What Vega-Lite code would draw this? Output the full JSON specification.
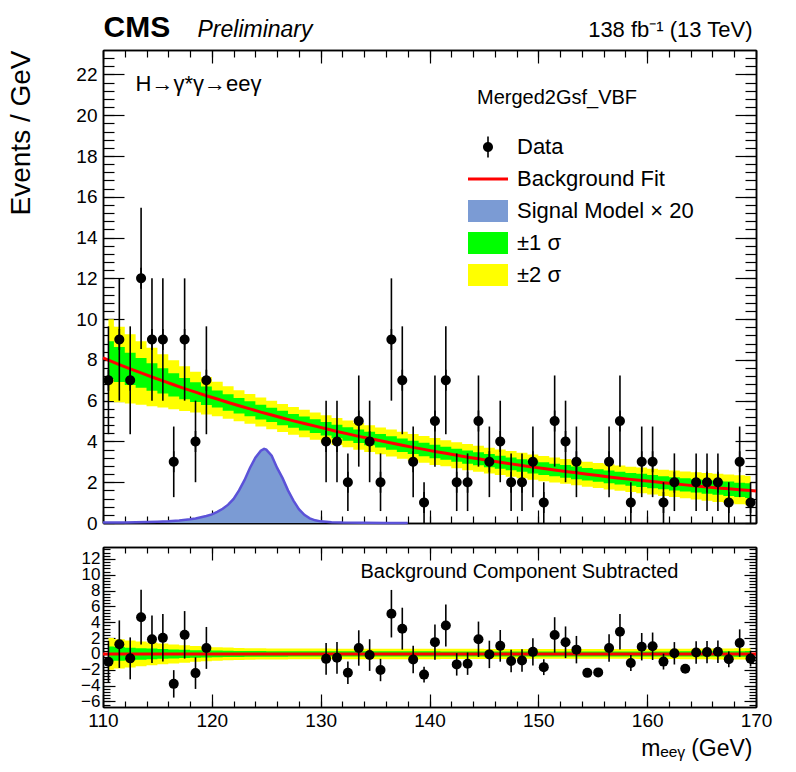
{
  "$schema": "https://vega.github.io/schema/vega-lite/v6.json",
  "width": 653,
  "height": 657,
  "autosize": {"type": "none"},
  "padding": {"left": 103, "top": 50, "right": 40, "bottom": 65},
  "background": "white",
  "config": {
    "view": {"stroke": null},
    "font": "Liberation Sans",
    "axis": {
      "grid": false,
      "ticks": true,
      "domainColor": "black",
      "domainWidth": 1.5,
      "tickColor": "black",
      "tickWidth": 1.2,
      "labelFont": "Liberation Sans",
      "labelColor": "black",
      "titleFont": "Liberation Sans",
      "titleColor": "black",
      "titleFontWeight": "normal",
      "labelOverlap": false,
      "labelFlush": false,
      "labelBound": false
    }
  },
  "datasets": {
    "obs": [
      {"m": 110.5, "n": 7, "err": 2.646, "res": -0.99},
      {"m": 111.5, "n": 9, "err": 3, "res": 1.23},
      {"m": 112.5, "n": 7, "err": 2.646, "res": -0.56},
      {"m": 113.5, "n": 12, "err": 3.464, "res": 4.64},
      {"m": 114.5, "n": 9, "err": 3, "res": 1.84},
      {"m": 115.5, "n": 9, "err": 3, "res": 2.03},
      {"m": 116.5, "n": 3, "err": 1.732, "res": -3.78},
      {"m": 117.5, "n": 9, "err": 3, "res": 2.41},
      {"m": 118.5, "n": 4, "err": 2, "res": -2.42},
      {"m": 119.5, "n": 7, "err": 2.646, "res": 0.76},
      {"m": 130.5, "n": 4, "err": 2, "res": -0.62},
      {"m": 131.5, "n": 4, "err": 2, "res": -0.49},
      {"m": 132.5, "n": 2, "err": 1.414, "res": -2.37},
      {"m": 133.5, "n": 5, "err": 2.236, "res": 0.75},
      {"m": 134.5, "n": 4, "err": 2, "res": -0.14},
      {"m": 135.5, "n": 2, "err": 1.414, "res": -2.03},
      {"m": 136.5, "n": 9, "err": 3, "res": 5.08},
      {"m": 137.5, "n": 7, "err": 2.646, "res": 3.19},
      {"m": 138.5, "n": 3, "err": 1.732, "res": -0.71},
      {"m": 139.5, "n": 1, "err": 1, "res": -2.61},
      {"m": 140.5, "n": 5, "err": 2.236, "res": 1.49},
      {"m": 141.5, "n": 7, "err": 2.646, "res": 3.58},
      {"m": 142.5, "n": 2, "err": 1.414, "res": -1.32},
      {"m": 143.5, "n": 2, "err": 1.414, "res": -1.23},
      {"m": 144.5, "n": 5, "err": 2.236, "res": 1.85},
      {"m": 145.5, "n": 3, "err": 1.732, "res": -0.06},
      {"m": 146.5, "n": 4, "err": 2, "res": 1.02},
      {"m": 147.5, "n": 2, "err": 1.414, "res": -0.9},
      {"m": 148.5, "n": 2, "err": 1.414, "res": -0.82},
      {"m": 149.5, "n": 3, "err": 1.732, "res": 0.26},
      {"m": 150.5, "n": 1, "err": 1, "res": -1.67},
      {"m": 151.5, "n": 5, "err": 2.236, "res": 2.4},
      {"m": 152.5, "n": 4, "err": 2, "res": 1.47},
      {"m": 153.5, "n": 3, "err": 1.732, "res": 0.54},
      {"m": 154.5, "n": 0, "err": 0, "res": -2.39},
      {"m": 155.5, "n": 0, "err": 0, "res": -2.33},
      {"m": 156.5, "n": 3, "err": 1.732, "res": 0.74},
      {"m": 157.5, "n": 5, "err": 2.236, "res": 2.8},
      {"m": 158.5, "n": 1, "err": 1, "res": -1.14},
      {"m": 159.5, "n": 3, "err": 1.732, "res": 0.91},
      {"m": 160.5, "n": 3, "err": 1.732, "res": 0.97},
      {"m": 161.5, "n": 1, "err": 1, "res": -0.97},
      {"m": 162.5, "n": 2, "err": 1.414, "res": 0.08},
      {"m": 163.5, "n": 0, "err": 0, "res": -1.87},
      {"m": 164.5, "n": 2, "err": 1.414, "res": 0.18},
      {"m": 165.5, "n": 2, "err": 1.414, "res": 0.23},
      {"m": 166.5, "n": 2, "err": 1.414, "res": 0.28},
      {"m": 167.5, "n": 1, "err": 1, "res": -0.68},
      {"m": 168.5, "n": 3, "err": 1.732, "res": 1.37},
      {"m": 169.5, "n": 1, "err": 1, "res": -0.59}
    ],
    "bkg": [
      {"m": 110, "b": 8.10},
      {"m": 110.5, "b": 7.99, "lo1": 7.06, "hi1": 8.92, "lo2": 5.99, "hi2": 9.99, "d1": -0.93, "u1": 0.93, "d2": -2.00, "u2": 2.00},
      {"m": 111.5, "b": 7.77, "lo1": 6.91, "hi1": 8.63, "lo2": 5.92, "hi2": 9.62, "d1": -0.86, "u1": 0.86, "d2": -1.85, "u2": 1.85},
      {"m": 112.5, "b": 7.56, "lo1": 6.77, "hi1": 8.35, "lo2": 5.86, "hi2": 9.26, "d1": -0.79, "u1": 0.79, "d2": -1.70, "u2": 1.70},
      {"m": 113.5, "b": 7.36, "lo1": 6.63, "hi1": 8.09, "lo2": 5.80, "hi2": 8.92, "d1": -0.73, "u1": 0.73, "d2": -1.56, "u2": 1.56},
      {"m": 114.5, "b": 7.16, "lo1": 6.49, "hi1": 7.83, "lo2": 5.73, "hi2": 8.59, "d1": -0.67, "u1": 0.67, "d2": -1.43, "u2": 1.43},
      {"m": 115.5, "b": 6.97, "lo1": 6.35, "hi1": 7.59, "lo2": 5.66, "hi2": 8.28, "d1": -0.62, "u1": 0.62, "d2": -1.31, "u2": 1.31},
      {"m": 116.5, "b": 6.78, "lo1": 6.21, "hi1": 7.35, "lo2": 5.58, "hi2": 7.98, "d1": -0.57, "u1": 0.57, "d2": -1.20, "u2": 1.20},
      {"m": 117.5, "b": 6.59, "lo1": 6.07, "hi1": 7.11, "lo2": 5.49, "hi2": 7.69, "d1": -0.52, "u1": 0.52, "d2": -1.10, "u2": 1.10},
      {"m": 118.5, "b": 6.42, "lo1": 5.94, "hi1": 6.90, "lo2": 5.42, "hi2": 7.42, "d1": -0.48, "u1": 0.48, "d2": -1.00, "u2": 1.00},
      {"m": 119.5, "b": 6.24, "lo1": 5.79, "hi1": 6.69, "lo2": 5.32, "hi2": 7.16, "d1": -0.45, "u1": 0.45, "d2": -0.92, "u2": 0.92},
      {"m": 120.5, "b": 6.08, "lo1": 5.66, "hi1": 6.50, "lo2": 5.23, "hi2": 6.93, "d1": -0.42, "u1": 0.42, "d2": -0.85, "u2": 0.85},
      {"m": 121.5, "b": 5.91, "lo1": 5.51, "hi1": 6.31, "lo2": 5.11, "hi2": 6.71, "d1": -0.40, "u1": 0.40, "d2": -0.80, "u2": 0.80},
      {"m": 122.5, "b": 5.75, "lo1": 5.37, "hi1": 6.13, "lo2": 4.99, "hi2": 6.51, "d1": -0.38, "u1": 0.38, "d2": -0.76, "u2": 0.76},
      {"m": 123.5, "b": 5.60, "lo1": 5.23, "hi1": 5.97, "lo2": 4.87, "hi2": 6.33, "d1": -0.37, "u1": 0.37, "d2": -0.73, "u2": 0.73},
      {"m": 124.5, "b": 5.44, "lo1": 5.08, "hi1": 5.80, "lo2": 4.73, "hi2": 6.15, "d1": -0.36, "u1": 0.36, "d2": -0.71, "u2": 0.71},
      {"m": 125.5, "b": 5.30, "lo1": 4.95, "hi1": 5.65, "lo2": 4.60, "hi2": 6.00, "d1": -0.35, "u1": 0.35, "d2": -0.70, "u2": 0.70},
      {"m": 126.5, "b": 5.15, "lo1": 4.80, "hi1": 5.50, "lo2": 4.46, "hi2": 5.84, "d1": -0.35, "u1": 0.35, "d2": -0.69, "u2": 0.69},
      {"m": 127.5, "b": 5.01, "lo1": 4.67, "hi1": 5.35, "lo2": 4.33, "hi2": 5.69, "d1": -0.34, "u1": 0.34, "d2": -0.68, "u2": 0.68},
      {"m": 128.5, "b": 4.88, "lo1": 4.54, "hi1": 5.22, "lo2": 4.20, "hi2": 5.56, "d1": -0.34, "u1": 0.34, "d2": -0.68, "u2": 0.68},
      {"m": 129.5, "b": 4.75, "lo1": 4.41, "hi1": 5.09, "lo2": 4.08, "hi2": 5.42, "d1": -0.34, "u1": 0.34, "d2": -0.67, "u2": 0.67},
      {"m": 130.5, "b": 4.62, "lo1": 4.29, "hi1": 4.95, "lo2": 3.95, "hi2": 5.29, "d1": -0.33, "u1": 0.33, "d2": -0.67, "u2": 0.67},
      {"m": 131.5, "b": 4.49, "lo1": 4.16, "hi1": 4.82, "lo2": 3.83, "hi2": 5.15, "d1": -0.33, "u1": 0.33, "d2": -0.66, "u2": 0.66},
      {"m": 132.5, "b": 4.37, "lo1": 4.04, "hi1": 4.70, "lo2": 3.71, "hi2": 5.03, "d1": -0.33, "u1": 0.33, "d2": -0.66, "u2": 0.66},
      {"m": 133.5, "b": 4.25, "lo1": 3.92, "hi1": 4.58, "lo2": 3.59, "hi2": 4.91, "d1": -0.33, "u1": 0.33, "d2": -0.66, "u2": 0.66},
      {"m": 134.5, "b": 4.14, "lo1": 3.81, "hi1": 4.47, "lo2": 3.48, "hi2": 4.80, "d1": -0.33, "u1": 0.33, "d2": -0.66, "u2": 0.66},
      {"m": 135.5, "b": 4.03, "lo1": 3.70, "hi1": 4.36, "lo2": 3.37, "hi2": 4.69, "d1": -0.33, "u1": 0.33, "d2": -0.66, "u2": 0.66},
      {"m": 136.5, "b": 3.92, "lo1": 3.59, "hi1": 4.25, "lo2": 3.26, "hi2": 4.58, "d1": -0.33, "u1": 0.33, "d2": -0.66, "u2": 0.66},
      {"m": 137.5, "b": 3.81, "lo1": 3.48, "hi1": 4.14, "lo2": 3.15, "hi2": 4.47, "d1": -0.33, "u1": 0.33, "d2": -0.66, "u2": 0.66},
      {"m": 138.5, "b": 3.71, "lo1": 3.38, "hi1": 4.04, "lo2": 3.05, "hi2": 4.37, "d1": -0.33, "u1": 0.33, "d2": -0.66, "u2": 0.66},
      {"m": 139.5, "b": 3.61, "lo1": 3.28, "hi1": 3.94, "lo2": 2.95, "hi2": 4.27, "d1": -0.33, "u1": 0.33, "d2": -0.66, "u2": 0.66},
      {"m": 140.5, "b": 3.51, "lo1": 3.18, "hi1": 3.84, "lo2": 2.85, "hi2": 4.17, "d1": -0.33, "u1": 0.33, "d2": -0.66, "u2": 0.66},
      {"m": 141.5, "b": 3.42, "lo1": 3.10, "hi1": 3.74, "lo2": 2.78, "hi2": 4.06, "d1": -0.32, "u1": 0.32, "d2": -0.64, "u2": 0.64},
      {"m": 142.5, "b": 3.32, "lo1": 3.00, "hi1": 3.64, "lo2": 2.68, "hi2": 3.96, "d1": -0.32, "u1": 0.32, "d2": -0.64, "u2": 0.64},
      {"m": 143.5, "b": 3.23, "lo1": 2.91, "hi1": 3.55, "lo2": 2.59, "hi2": 3.87, "d1": -0.32, "u1": 0.32, "d2": -0.64, "u2": 0.64},
      {"m": 144.5, "b": 3.15, "lo1": 2.83, "hi1": 3.47, "lo2": 2.51, "hi2": 3.79, "d1": -0.32, "u1": 0.32, "d2": -0.64, "u2": 0.64},
      {"m": 145.5, "b": 3.06, "lo1": 2.74, "hi1": 3.38, "lo2": 2.43, "hi2": 3.69, "d1": -0.32, "u1": 0.32, "d2": -0.63, "u2": 0.63},
      {"m": 146.5, "b": 2.98, "lo1": 2.66, "hi1": 3.30, "lo2": 2.35, "hi2": 3.61, "d1": -0.32, "u1": 0.32, "d2": -0.63, "u2": 0.63},
      {"m": 147.5, "b": 2.90, "lo1": 2.59, "hi1": 3.21, "lo2": 2.27, "hi2": 3.53, "d1": -0.31, "u1": 0.31, "d2": -0.63, "u2": 0.63},
      {"m": 148.5, "b": 2.82, "lo1": 2.51, "hi1": 3.13, "lo2": 2.20, "hi2": 3.44, "d1": -0.31, "u1": 0.31, "d2": -0.62, "u2": 0.62},
      {"m": 149.5, "b": 2.74, "lo1": 2.43, "hi1": 3.05, "lo2": 2.12, "hi2": 3.36, "d1": -0.31, "u1": 0.31, "d2": -0.62, "u2": 0.62},
      {"m": 150.5, "b": 2.67, "lo1": 2.36, "hi1": 2.98, "lo2": 2.05, "hi2": 3.29, "d1": -0.31, "u1": 0.31, "d2": -0.62, "u2": 0.62},
      {"m": 151.5, "b": 2.60, "lo1": 2.29, "hi1": 2.91, "lo2": 1.99, "hi2": 3.21, "d1": -0.31, "u1": 0.31, "d2": -0.61, "u2": 0.61},
      {"m": 152.5, "b": 2.53, "lo1": 2.22, "hi1": 2.84, "lo2": 1.92, "hi2": 3.14, "d1": -0.31, "u1": 0.31, "d2": -0.61, "u2": 0.61},
      {"m": 153.5, "b": 2.46, "lo1": 2.15, "hi1": 2.77, "lo2": 1.85, "hi2": 3.07, "d1": -0.31, "u1": 0.31, "d2": -0.61, "u2": 0.61},
      {"m": 154.5, "b": 2.39, "lo1": 2.08, "hi1": 2.70, "lo2": 1.78, "hi2": 3.00, "d1": -0.31, "u1": 0.31, "d2": -0.61, "u2": 0.61},
      {"m": 155.5, "b": 2.33, "lo1": 2.02, "hi1": 2.64, "lo2": 1.72, "hi2": 2.94, "d1": -0.31, "u1": 0.31, "d2": -0.61, "u2": 0.61},
      {"m": 156.5, "b": 2.26, "lo1": 1.95, "hi1": 2.57, "lo2": 1.64, "hi2": 2.88, "d1": -0.31, "u1": 0.31, "d2": -0.62, "u2": 0.62},
      {"m": 157.5, "b": 2.20, "lo1": 1.89, "hi1": 2.51, "lo2": 1.58, "hi2": 2.82, "d1": -0.31, "u1": 0.31, "d2": -0.62, "u2": 0.62},
      {"m": 158.5, "b": 2.14, "lo1": 1.83, "hi1": 2.45, "lo2": 1.52, "hi2": 2.76, "d1": -0.31, "u1": 0.31, "d2": -0.62, "u2": 0.62},
      {"m": 159.5, "b": 2.09, "lo1": 1.77, "hi1": 2.41, "lo2": 1.46, "hi2": 2.72, "d1": -0.32, "u1": 0.32, "d2": -0.63, "u2": 0.63},
      {"m": 160.5, "b": 2.03, "lo1": 1.71, "hi1": 2.35, "lo2": 1.40, "hi2": 2.66, "d1": -0.32, "u1": 0.32, "d2": -0.63, "u2": 0.63},
      {"m": 161.5, "b": 1.97, "lo1": 1.65, "hi1": 2.29, "lo2": 1.33, "hi2": 2.61, "d1": -0.32, "u1": 0.32, "d2": -0.64, "u2": 0.64},
      {"m": 162.5, "b": 1.92, "lo1": 1.60, "hi1": 2.24, "lo2": 1.27, "hi2": 2.57, "d1": -0.32, "u1": 0.32, "d2": -0.65, "u2": 0.65},
      {"m": 163.5, "b": 1.87, "lo1": 1.54, "hi1": 2.20, "lo2": 1.21, "hi2": 2.53, "d1": -0.33, "u1": 0.33, "d2": -0.66, "u2": 0.66},
      {"m": 164.5, "b": 1.82, "lo1": 1.49, "hi1": 2.15, "lo2": 1.15, "hi2": 2.49, "d1": -0.33, "u1": 0.33, "d2": -0.67, "u2": 0.67},
      {"m": 165.5, "b": 1.77, "lo1": 1.43, "hi1": 2.11, "lo2": 1.09, "hi2": 2.45, "d1": -0.34, "u1": 0.34, "d2": -0.68, "u2": 0.68},
      {"m": 166.5, "b": 1.72, "lo1": 1.38, "hi1": 2.06, "lo2": 1.03, "hi2": 2.41, "d1": -0.34, "u1": 0.34, "d2": -0.69, "u2": 0.69},
      {"m": 167.5, "b": 1.68, "lo1": 1.33, "hi1": 2.03, "lo2": 0.98, "hi2": 2.38, "d1": -0.35, "u1": 0.35, "d2": -0.70, "u2": 0.70},
      {"m": 168.5, "b": 1.63, "lo1": 1.28, "hi1": 1.98, "lo2": 0.92, "hi2": 2.34, "d1": -0.35, "u1": 0.35, "d2": -0.71, "u2": 0.71},
      {"m": 169.5, "b": 1.59, "lo1": 1.23, "hi1": 1.95, "lo2": 0.87, "hi2": 2.31, "d1": -0.36, "u1": 0.36, "d2": -0.72, "u2": 0.72},
      {"m": 170, "b": 1.57}
    ],
    "sig": [
      {"m": 110, "s": 0.02}, {"m": 111, "s": 0.02}, {"m": 112, "s": 0.03}, {"m": 113, "s": 0.04},
      {"m": 114, "s": 0.05}, {"m": 115, "s": 0.06}, {"m": 116, "s": 0.08}, {"m": 117, "s": 0.12},
      {"m": 118, "s": 0.18}, {"m": 118.5, "s": 0.22}, {"m": 119, "s": 0.28}, {"m": 119.5, "s": 0.34},
      {"m": 120, "s": 0.42}, {"m": 120.5, "s": 0.55}, {"m": 121, "s": 0.70}, {"m": 121.5, "s": 0.90},
      {"m": 122, "s": 1.18}, {"m": 122.5, "s": 1.60}, {"m": 123, "s": 2.10}, {"m": 123.5, "s": 2.70},
      {"m": 124, "s": 3.20}, {"m": 124.5, "s": 3.55}, {"m": 124.8, "s": 3.64}, {"m": 125, "s": 3.60},
      {"m": 125.5, "s": 3.30}, {"m": 126, "s": 2.70}, {"m": 126.5, "s": 2.20}, {"m": 127, "s": 1.60},
      {"m": 127.5, "s": 1.10}, {"m": 128, "s": 0.68}, {"m": 128.5, "s": 0.40}, {"m": 129, "s": 0.23},
      {"m": 129.5, "s": 0.13}, {"m": 130, "s": 0.08}, {"m": 131, "s": 0.04}, {"m": 132, "s": 0.02},
      {"m": 134, "s": 0.01}, {"m": 136, "s": 0.005}, {"m": 138, "s": 0}
    ]
  },
  "resolve": {
    "scale": {"y": "independent"},
    "axis": {"x": "independent", "y": "independent"}
  },
  "layer": [
    {
      "data": {"name": "bkg"},
      "transform": [{"filter": "isValid(datum.lo2)"}],
      "mark": {"type": "area", "interpolate": "step", "opacity": 1},
      "encoding": {
        "x": {
          "field": "m", "type": "quantitative",
          "scale": {"domain": [110, 170], "nice": false, "zero": false},
          "axis": {
            "orient": "bottom", "offset": -184, "values": [110, 120, 130, 140, 150, 160, 170],
            "labels": false, "tickSize": -13,
            "title": "Preliminary", "titleX": 94, "titleY": -487, "titleAlign": "left", "titleBaseline": "alphabetic",
            "titleFontSize": 23, "titleFontStyle": "italic"
          }
        },
        "y": {
          "field": "lo2", "type": "quantitative",
          "scale": {"domain": [0, 23.2], "range": [473, 0], "nice": false, "zero": false},
          "axis": {
            "orient": "left", "values": [0, 2, 4, 6, 8, 10, 12, 14, 16, 18, 20, 22], "format": "d",
            "labelFontSize": 19, "labelPadding": 27, "tickSize": -21,
            "title": "Events / GeV", "titleFontSize": 28, "titleX": -82, "titleY": 0,
            "titleAngle": 270, "titleAlign": "right", "titleBaseline": "middle"
          }
        },
        "y2": {"field": "hi2"},
        "color": {
          "datum": "±2 σ",
          "scale": {"domain": ["Data", "Background Fit", "Signal Model  × 20", "±1 σ", "±2 σ"], "range": ["black", "#ff0000", "#7b9bd4", "#00ff00", "#ffff00"]},
          "legend": {
            "title": "Merged2Gsf_VBF",
            "orient": "none", "legendX": 374, "legendY": 38,
            "titleFont": "Liberation Sans", "titleFontSize": 20, "titleFontWeight": "normal", "titleColor": "black", "titlePadding": 28,
            "labelFont": "Liberation Sans", "labelFontSize": 22, "labelColor": "black", "labelOffset": 18, "labelLimit": 400,
            "symbolSize": 400, "symbolStrokeWidth": 0, "symbolOpacity": 1, "rowPadding": 10
          }
        }
      }
    },
    {
      "data": {"name": "bkg"},
      "transform": [{"filter": "isValid(datum.lo1)"}],
      "mark": {"type": "area", "interpolate": "step", "opacity": 1},
      "encoding": {
        "x": {
          "field": "m", "type": "quantitative",
          "scale": {"domain": [110, 170], "nice": false, "zero": false},
          "axis": {
            "orient": "top", "offset": 0, "values": [110, 120, 130, 140, 150, 160, 170],
            "labels": false, "tickSize": -13,
            "title": "138 fb⁻¹ (13 TeV)", "titleX": 649, "titleY": -14, "titleAlign": "right", "titleBaseline": "alphabetic",
            "titleFontSize": 22
          }
        },
        "y": {
          "field": "lo1", "type": "quantitative",
          "scale": {"domain": [0, 23.2], "range": [473, 0], "nice": false, "zero": false},
          "axis": {
            "orient": "right", "values": [0, 2, 4, 6, 8, 10, 12, 14, 16, 18, 20, 22],
            "labels": false, "tickSize": -21,
            "title": "H→γ*γ→eeγ", "titleFontSize": 22, "titleX": -621, "titleY": 40,
            "titleAngle": 0, "titleAlign": "left", "titleBaseline": "alphabetic"
          }
        },
        "y2": {"field": "hi1"},
        "color": {"datum": "±1 σ", "scale": {"domain": ["Data", "Background Fit", "Signal Model  × 20", "±1 σ", "±2 σ"], "range": ["black", "#ff0000", "#7b9bd4", "#00ff00", "#ffff00"]}, "legend": null}
      }
    },
    {
      "data": {"name": "bkg"},
      "mark": {"type": "line", "strokeWidth": 3},
      "encoding": {
        "x": {
          "field": "m", "type": "quantitative",
          "scale": {"domain": [110, 170], "nice": false, "zero": false},
          "axis": {
            "orient": "bottom", "offset": -184,
            "values": [110,112,114,116,118,120,122,124,126,128,130,132,134,136,138,140,142,144,146,148,150,152,154,156,158,160,162,164,166,168,170],
            "labels": false, "tickSize": -7, "title": null
          }
        },
        "y": {
          "field": "b", "type": "quantitative",
          "scale": {"domain": [0, 23.2], "range": [473, 0], "nice": false, "zero": false},
          "axis": {
            "orient": "left",
            "values": [0,0.4,0.8,1.2,1.6,2,2.4,2.8,3.2,3.6,4,4.4,4.8,5.2,5.6,6,6.4,6.8,7.2,7.6,8,8.4,8.8,9.2,9.6,10,10.4,10.8,11.2,11.6,12,12.4,12.8,13.2,13.6,14,14.4,14.8,15.2,15.6,16,16.4,16.8,17.2,17.6,18,18.4,18.8,19.2,19.6,20,20.4,20.8,21.2,21.6,22,22.4,22.8],
            "labels": false, "tickSize": -11, "title": null
          }
        },
        "color": {"datum": "Background Fit", "scale": {"domain": ["Data", "Background Fit", "Signal Model  × 20", "±1 σ", "±2 σ"], "range": ["black", "#ff0000", "#7b9bd4", "#00ff00", "#ffff00"]}, "legend": null}
      }
    },
    {
      "data": {"name": "sig"},
      "mark": {"type": "area", "opacity": 1},
      "encoding": {
        "x": {
          "field": "m", "type": "quantitative",
          "scale": {"domain": [110, 170], "nice": false, "zero": false},
          "axis": {
            "orient": "top", "offset": 0,
            "values": [110,112,114,116,118,120,122,124,126,128,130,132,134,136,138,140,142,144,146,148,150,152,154,156,158,160,162,164,166,168,170],
            "labels": false, "tickSize": -7, "title": null
          }
        },
        "y": {
          "field": "s", "type": "quantitative",
          "scale": {"domain": [0, 23.2], "range": [473, 0], "nice": false, "zero": false},
          "axis": {
            "orient": "right",
            "values": [0,0.4,0.8,1.2,1.6,2,2.4,2.8,3.2,3.6,4,4.4,4.8,5.2,5.6,6,6.4,6.8,7.2,7.6,8,8.4,8.8,9.2,9.6,10,10.4,10.8,11.2,11.6,12,12.4,12.8,13.2,13.6,14,14.4,14.8,15.2,15.6,16,16.4,16.8,17.2,17.6,18,18.4,18.8,19.2,19.6,20,20.4,20.8,21.2,21.6,22,22.4,22.8],
            "labels": false, "tickSize": -11, "title": null
          }
        },
        "color": {"datum": "Signal Model  × 20", "scale": {"domain": ["Data", "Background Fit", "Signal Model  × 20", "±1 σ", "±2 σ"], "range": ["black", "#ff0000", "#7b9bd4", "#00ff00", "#ffff00"]}, "legend": null}
      }
    },
    {
      "data": {"name": "sig"},
      "mark": {"type": "line", "color": "#5b52d8", "strokeWidth": 2.5},
      "encoding": {
        "x": {"field": "m", "type": "quantitative", "scale": {"domain": [110, 170], "nice": false, "zero": false}, "axis": null},
        "y": {"field": "s", "type": "quantitative", "scale": {"domain": [0, 23.2], "range": [473, 0], "nice": false, "zero": false}, "axis": null}
      }
    },
    {
      "data": {"name": "obs"},
      "transform": [{"filter": "datum.n > 0"}],
      "mark": {"type": "errorbar", "ticks": false, "color": "black", "thickness": 1.6},
      "encoding": {
        "x": {"field": "m", "type": "quantitative", "scale": {"domain": [110, 170], "nice": false, "zero": false}, "axis": null},
        "y": {"field": "n", "type": "quantitative", "scale": {"domain": [0, 23.2], "range": [473, 0], "nice": false, "zero": false}, "axis": null},
        "yError": {"field": "err"}
      }
    },
    {
      "data": {"name": "obs"},
      "transform": [{"filter": "datum.n > 0"}],
      "mark": {"type": "point", "filled": true, "size": 400, "opacity": 1, "strokeWidth": 0},
      "encoding": {
        "x": {"field": "m", "type": "quantitative", "scale": {"domain": [110, 170], "nice": false, "zero": false}, "axis": null},
        "y": {"field": "n", "type": "quantitative", "scale": {"domain": [0, 23.2], "range": [473, 0], "nice": false, "zero": false}, "axis": null},
        "color": {"datum": "Data", "scale": {"domain": ["Data", "Background Fit", "Signal Model  × 20", "±1 σ", "±2 σ"], "range": ["black", "#ff0000", "#7b9bd4", "#00ff00", "#ffff00"]}, "legend": null},
        "shape": {
          "datum": "Data",
          "scale": {
            "domain": ["Data", "Background Fit", "Signal Model  × 20", "±1 σ", "±2 σ"],
            "range": [
              "M-0.08,-1.05H0.08V1.05H-0.08Z M-0.5,0A0.5,0.5,0,1,1,0.5,0A0.5,0.5,0,1,1,-0.5,0Z",
              "M-2,-0.15H2V0.15H-2Z",
              "M-2,-1.1H2V1.1H-2Z",
              "M-2,-1.1H2V1.1H-2Z",
              "M-2,-1.1H2V1.1H-2Z"
            ]
          }
        }
      }
    },
    {
      "data": {"name": "bkg"},
      "transform": [{"filter": "isValid(datum.d2)"}],
      "mark": {"type": "area", "interpolate": "step", "color": "#ffff00", "opacity": 1},
      "encoding": {
        "x": {
          "field": "m", "type": "quantitative",
          "scale": {"domain": [110, 170], "nice": false, "zero": false},
          "axis": {
            "orient": "bottom", "offset": 0, "values": [110, 120, 130, 140, 150, 160, 170], "format": "d",
            "labelFontSize": 19, "labelPadding": 17, "tickSize": -13,
            "title": "mₑₑᵧ (GeV)", "titleX": 649, "titleY": 48, "titleAlign": "right", "titleBaseline": "alphabetic",
            "titleFontSize": 23
          }
        },
        "y": {
          "field": "d2", "type": "quantitative",
          "scale": {"domain": [-6.7, 13.5], "range": [657, 497], "nice": false, "zero": false},
          "axis": {
            "orient": "left", "values": [-6, -4, -2, 0, 2, 4, 6, 8, 10, 12], "format": "d",
            "labelFontSize": 17, "labelPadding": 15, "tickSize": -12, "title": null
          }
        },
        "y2": {"field": "u2"}
      }
    },
    {
      "data": {"name": "bkg"},
      "transform": [{"filter": "isValid(datum.d1)"}],
      "mark": {"type": "area", "interpolate": "step", "color": "#00ff00", "opacity": 1},
      "encoding": {
        "x": {
          "field": "m", "type": "quantitative",
          "scale": {"domain": [110, 170], "nice": false, "zero": false},
          "axis": {
            "orient": "top", "offset": -497, "values": [110, 120, 130, 140, 150, 160, 170],
            "labels": false, "tickSize": -13,
            "title": "CMS", "titleX": 0, "titleY": -511, "titleAlign": "left", "titleBaseline": "alphabetic",
            "titleFontSize": 30, "titleFontWeight": "bold"
          }
        },
        "y": {
          "field": "d1", "type": "quantitative",
          "scale": {"domain": [-6.7, 13.5], "range": [657, 497], "nice": false, "zero": false},
          "axis": {
            "orient": "right", "values": [-6, -4, -2, 0, 2, 4, 6, 8, 10, 12],
            "labels": false, "tickSize": -12,
            "title": "Background Component Subtracted", "titleFontSize": 20, "titleX": -396, "titleY": 527,
            "titleAngle": 0, "titleAlign": "left", "titleBaseline": "alphabetic"
          }
        },
        "y2": {"field": "u1"}
      }
    },
    {
      "data": {"values": [{}]},
      "mark": {"type": "rule", "color": "#ff0000", "strokeWidth": 3},
      "encoding": {
        "y": {
          "datum": 0, "type": "quantitative",
          "scale": {"domain": [-6.7, 13.5], "range": [657, 497], "nice": false, "zero": false},
          "axis": {
            "orient": "left",
            "values": [-6.4,-6,-5.6,-5.2,-4.8,-4.4,-4,-3.6,-3.2,-2.8,-2.4,-2,-1.6,-1.2,-0.8,-0.4,0,0.4,0.8,1.2,1.6,2,2.4,2.8,3.2,3.6,4,4.4,4.8,5.2,5.6,6,6.4,6.8,7.2,7.6,8,8.4,8.8,9.2,9.6,10,10.4,10.8,11.2,11.6,12,12.4,12.8,13.2],
            "labels": false, "tickSize": -7, "title": null
          }
        }
      }
    },
    {
      "data": {"name": "obs"},
      "mark": {"type": "errorbar", "ticks": false, "color": "black", "thickness": 1.6},
      "encoding": {
        "x": {
          "field": "m", "type": "quantitative",
          "scale": {"domain": [110, 170], "nice": false, "zero": false},
          "axis": {
            "orient": "bottom", "offset": 0,
            "values": [110,112,114,116,118,120,122,124,126,128,130,132,134,136,138,140,142,144,146,148,150,152,154,156,158,160,162,164,166,168,170],
            "labels": false, "tickSize": -6, "title": null
          }
        },
        "y": {
          "field": "res", "type": "quantitative",
          "scale": {"domain": [-6.7, 13.5], "range": [657, 497], "nice": false, "zero": false},
          "axis": {
            "orient": "right",
            "values": [-6.4,-6,-5.6,-5.2,-4.8,-4.4,-4,-3.6,-3.2,-2.8,-2.4,-2,-1.6,-1.2,-0.8,-0.4,0,0.4,0.8,1.2,1.6,2,2.4,2.8,3.2,3.6,4,4.4,4.8,5.2,5.6,6,6.4,6.8,7.2,7.6,8,8.4,8.8,9.2,9.6,10,10.4,10.8,11.2,11.6,12,12.4,12.8,13.2],
            "labels": false, "tickSize": -7, "title": null
          }
        },
        "yError": {"field": "err"}
      }
    },
    {
      "data": {"name": "obs"},
      "mark": {"type": "point", "filled": true, "size": 100, "opacity": 1, "color": "black"},
      "encoding": {
        "x": {
          "field": "m", "type": "quantitative",
          "scale": {"domain": [110, 170], "nice": false, "zero": false},
          "axis": {
            "orient": "top", "offset": -497,
            "values": [110,112,114,116,118,120,122,124,126,128,130,132,134,136,138,140,142,144,146,148,150,152,154,156,158,160,162,164,166,168,170],
            "labels": false, "tickSize": -6, "title": null
          }
        },
        "y": {"field": "res", "type": "quantitative", "scale": {"domain": [-6.7, 13.5], "range": [657, 497], "nice": false, "zero": false}, "axis": null}
      }
    }
  ]
}
